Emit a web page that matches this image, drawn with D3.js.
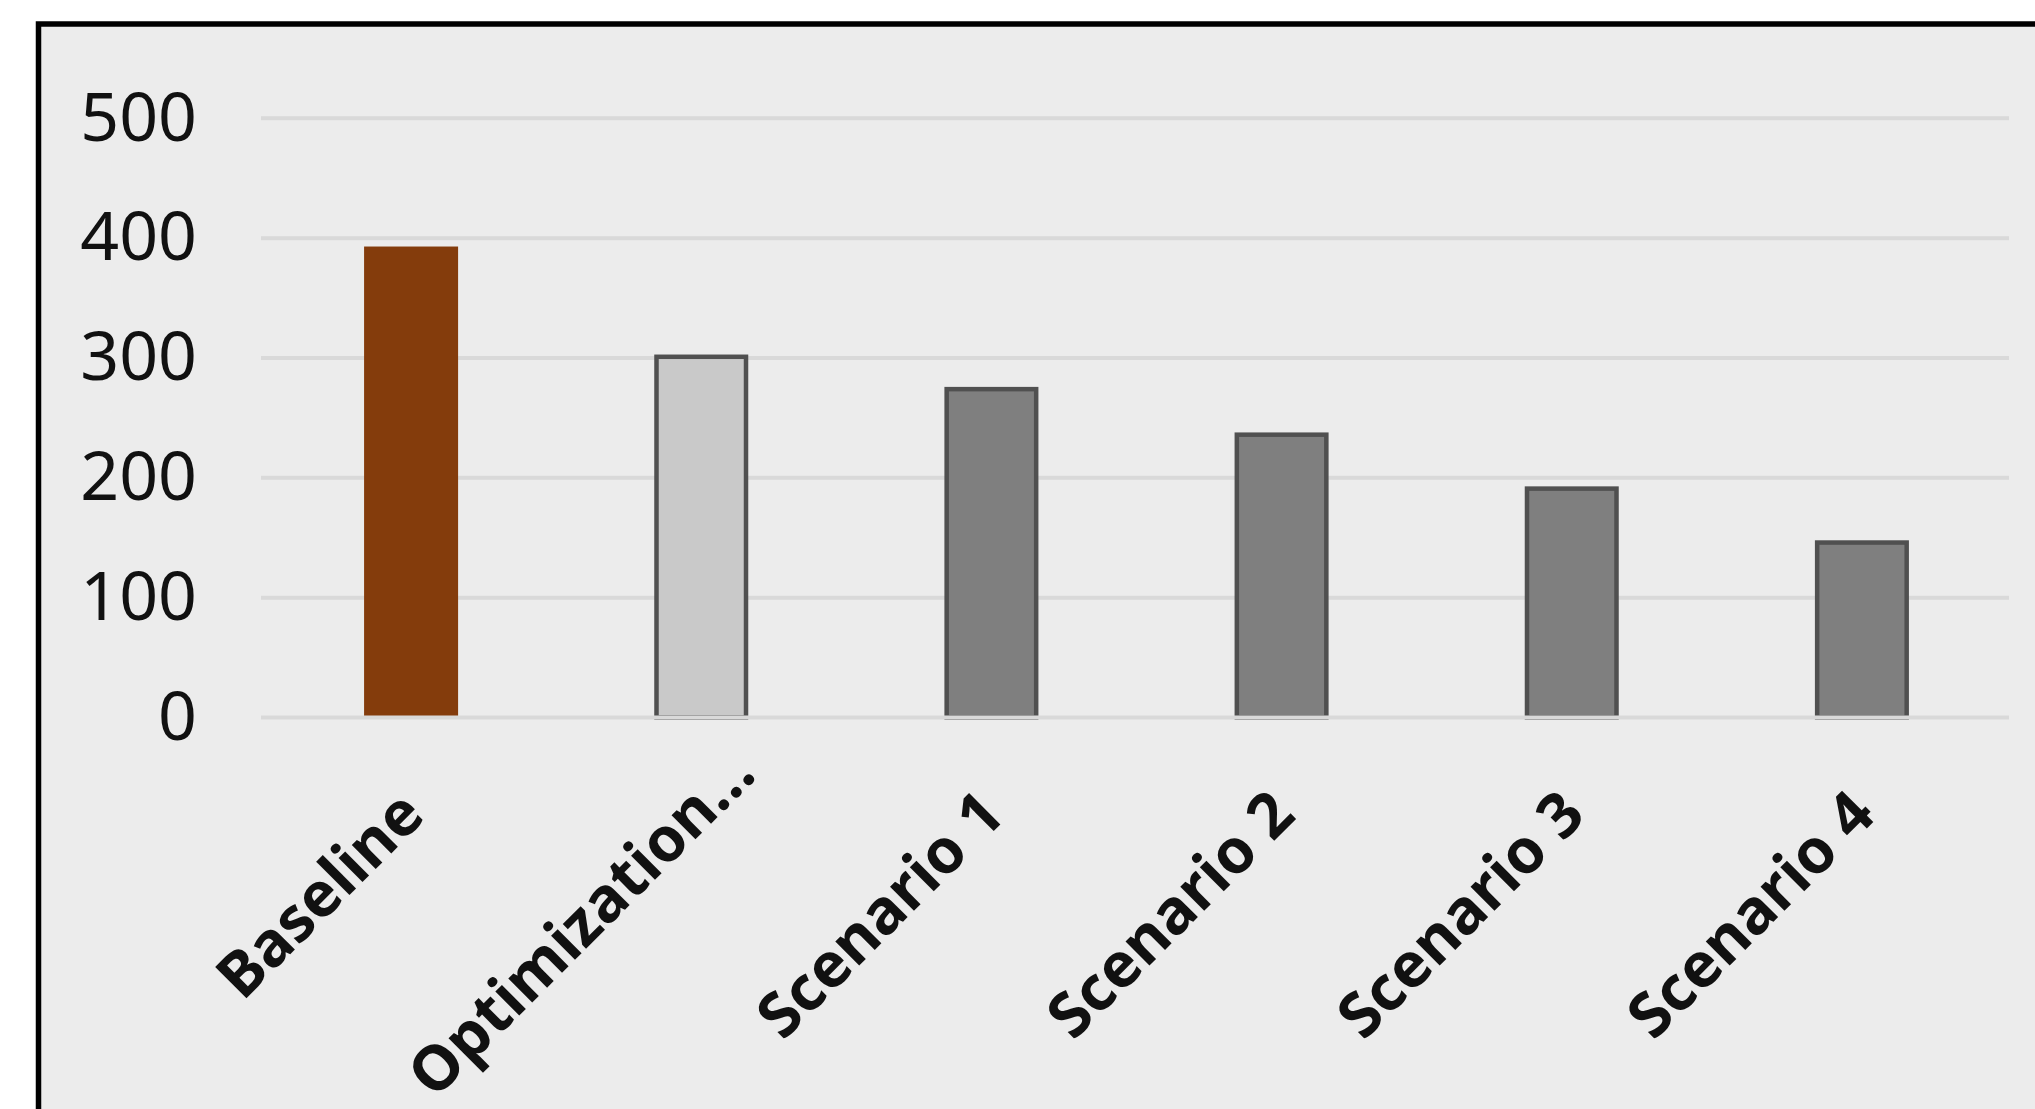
<!DOCTYPE html>
<html>
<head>
<meta charset="utf-8">
<script src="https://cdn.jsdelivr.net/npm/d3@7"></script>
<style>
  html, body { margin: 0; padding: 0; background: #ffffff; overflow: hidden; }
  svg { display: block; }
</style>
</head>
<body>
<script>
// ---- data ----
const categories = ["Baseline", "Optimization…", "Scenario 1", "Scenario 2", "Scenario 3", "Scenario 4"];
const values = [393, 301, 274, 236, 191, 146];
const yTicks = [0, 100, 200, 300, 400, 500];
const barKinds = ["baseline", "optimization", "scenario", "scenario", "scenario", "scenario"];

// ---- styles ----
const W = 2035, H = 1109;
const fills = { baseline: "#843c0c", optimization: "#c9c9c9", scenario: "#7f7f7f" };
const strokes = { baseline: "none", optimization: "#505050", scenario: "#505050" };
const strokeW = 4.5;

const svg = d3.select("body").append("svg").attr("width", W).attr("height", H);
svg.append("rect").attr("width", W).attr("height", H).attr("fill", "#ffffff");

// chart frame (left & top edges visible, rest cropped)
svg.append("rect")
  .attr("x", 38.5).attr("y", 24)
  .attr("width", W + 100).attr("height", H + 100)
  .attr("fill", "#ececec")
  .attr("stroke", "#000").attr("stroke-width", 5.5);

const plotLeft = 261, plotRight = 2009;
const y = d3.scaleLinear().domain([0, 500]).range([717.5, 118.3]);
const x = d3.scaleBand().domain(categories).range([266, 2007])
  .paddingInner(0.676).paddingOuter(0.338);

// gridlines
svg.append("g").selectAll("line").data(yTicks.filter(d => d !== 0)).join("line")
  .attr("x1", plotLeft).attr("x2", plotRight)
  .attr("y1", d => y(d)).attr("y2", d => y(d))
  .attr("stroke", "#d9d9d9").attr("stroke-width", 4);

// bars
svg.append("g").selectAll("rect").data(categories).join("rect")
  .attr("x", (d, i) => x(d) + (barKinds[i] === "baseline" ? 0 : strokeW / 2))
  .attr("width", (d, i) => x.bandwidth() - (barKinds[i] === "baseline" ? 0 : strokeW))
  .attr("y", (d, i) => y(values[i]))
  .attr("height", (d, i) => y(0) - y(values[i]))
  .attr("fill", (d, i) => fills[barKinds[i]])
  .attr("stroke", (d, i) => strokes[barKinds[i]])
  .attr("stroke-width", (d, i) => barKinds[i] === "baseline" ? 0 : strokeW);

// horizontal axis line (at 0)
svg.append("line")
  .attr("x1", plotLeft).attr("x2", plotRight)
  .attr("y1", y(0)).attr("y2", y(0))
  .attr("stroke", "#d9d9d9").attr("stroke-width", 4);

// y axis
const yAxis = svg.append("g").attr("transform", `translate(${plotLeft},0)`)
  .call(d3.axisLeft(y).tickValues(yTicks).tickSize(0).tickPadding(64));
yAxis.select(".domain").remove();
yAxis.selectAll("text")
  .attr("font-family", "'Noto Sans', sans-serif")
  .attr("font-size", 68)
  .attr("fill", "#111");

// x axis
const xAxis = svg.append("g").attr("transform", `translate(0,${y(0)})`)
  .call(d3.axisBottom(x).tickSize(0));
xAxis.select(".domain").remove();
xAxis.selectAll("text")
  .attr("x", 0).attr("y", 0).attr("dy", 0)
  .attr("dx", d => d.endsWith("…") ? 58 : 0)
  .attr("text-anchor", "end")
  .attr("transform", "translate(16,100) rotate(-45)")
  .attr("font-family", "'Noto Sans', sans-serif")
  .attr("font-weight", "bold")
  .attr("font-size", 62)
  .attr("fill", "#111");
</script>
</body>
</html>
